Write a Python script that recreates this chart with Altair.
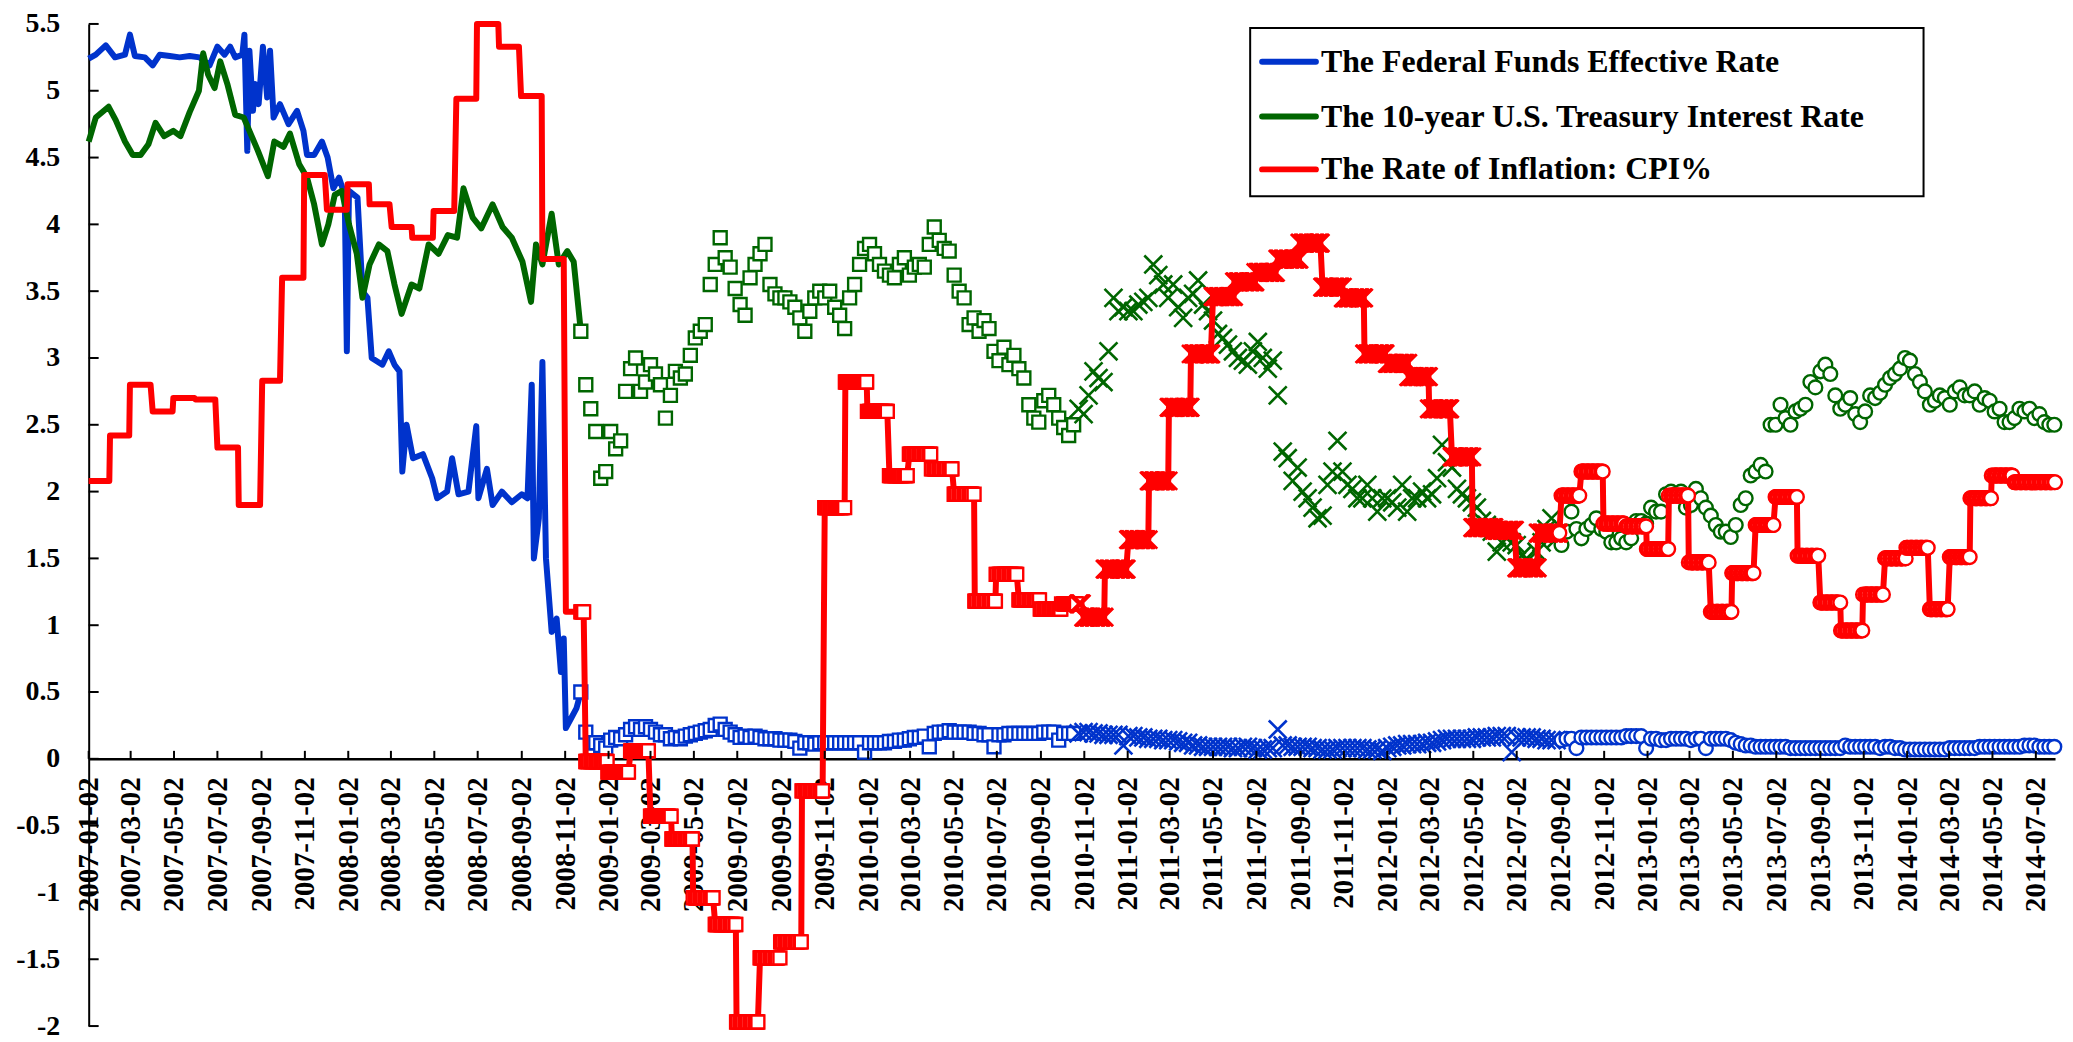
import altair as alt
import pandas as pd

# ---------------- data ----------------
# Line-only stretch (Jan 2007 - Nov 2008): irregular readings incl. spikes
fed_dates_early = [
    "2007-01-02","2007-01-12","2007-01-26","2007-02-08","2007-02-22","2007-03-01","2007-03-08","2007-03-22",
    "2007-04-02","2007-04-12","2007-04-26","2007-05-10","2007-05-24","2007-06-07","2007-06-21","2007-07-02",
    "2007-07-12","2007-07-20","2007-07-27","2007-08-06","2007-08-09","2007-08-13","2007-08-16","2007-08-21",
    "2007-08-24","2007-08-29","2007-09-04","2007-09-10","2007-09-14","2007-09-19","2007-09-28","2007-10-10",
    "2007-10-22","2007-10-31","2007-11-05","2007-11-15","2007-11-26","2007-12-04","2007-12-12","2007-12-20",
    "2007-12-28","2007-12-31","2008-01-03","2008-01-15","2008-01-22","2008-01-29","2008-02-04","2008-02-19",
    "2008-02-28","2008-03-07","2008-03-14","2008-03-18","2008-03-24","2008-04-02","2008-04-16","2008-04-29",
    "2008-05-06","2008-05-20","2008-05-27","2008-06-05","2008-06-19","2008-06-30","2008-07-03","2008-07-15",
    "2008-07-23","2008-08-05","2008-08-19","2008-09-02","2008-09-10","2008-09-16","2008-09-19","2008-09-26",
    "2008-10-01","2008-10-06","2008-10-14","2008-10-21","2008-10-27","2008-10-31","2008-11-03","2008-11-10",
    "2008-11-18",
]
fed_rates_early = [
    5.24,5.27,5.34,5.25,5.27,5.42,5.26,5.25,
    5.19,5.27,5.26,5.25,5.26,5.25,5.19,5.33,
    5.27,5.33,5.25,5.27,5.42,4.55,5.30,4.85,
    5.05,4.90,5.33,4.95,5.30,4.80,4.90,4.75,
    4.85,4.70,4.52,4.52,4.62,4.50,4.27,4.35,
    4.22,3.05,4.25,4.20,3.50,3.45,3.00,2.95,
    3.05,2.95,2.90,2.15,2.50,2.25,2.28,2.10,
    1.95,2.00,2.25,1.98,2.00,2.49,1.95,2.17,
    1.90,2.00,1.92,1.98,1.95,2.80,1.50,1.80,
    2.97,1.50,0.95,1.05,0.65,0.90,0.23,0.30,
    0.38,
]
t10_dates_early = [
    "2007-01-02","2007-01-12","2007-01-30","2007-02-09","2007-02-22","2007-03-05","2007-03-16","2007-03-27",
    "2007-04-06","2007-04-18","2007-05-01","2007-05-11","2007-05-24","2007-06-06","2007-06-12","2007-06-19",
    "2007-06-28","2007-07-06","2007-07-16","2007-07-27","2007-08-08","2007-08-16","2007-08-28","2007-09-11",
    "2007-09-20","2007-10-03","2007-10-12","2007-10-25","2007-11-05","2007-11-15","2007-11-26","2007-12-05",
    "2007-12-14","2007-12-24","2008-01-03","2008-01-14","2008-01-22","2008-02-01","2008-02-14","2008-02-26",
    "2008-03-07","2008-03-17","2008-03-31","2008-04-11","2008-04-24","2008-05-08","2008-05-21","2008-06-03",
    "2008-06-12","2008-06-25","2008-07-07","2008-07-23","2008-08-06","2008-08-19","2008-09-03","2008-09-15",
    "2008-09-22","2008-10-01","2008-10-14","2008-10-24","2008-11-05","2008-11-14",
]
t10_rates_early = [
    4.62,4.80,4.88,4.78,4.62,4.52,4.52,4.60,
    4.76,4.66,4.70,4.66,4.84,5.00,5.28,5.12,
    5.02,5.22,5.05,4.82,4.80,4.70,4.55,4.36,
    4.62,4.58,4.68,4.45,4.35,4.15,3.85,4.00,
    4.22,4.25,4.00,3.78,3.45,3.70,3.85,3.80,
    3.55,3.33,3.55,3.52,3.85,3.78,3.92,3.90,
    4.27,4.05,3.97,4.15,3.98,3.90,3.72,3.42,
    3.85,3.70,4.08,3.70,3.80,3.72,
]

# Marker stretch (from 24 Nov 2008): one reading per Monday, grouped by month
fed_weekly = {
    "2008-11": [0.50], "2008-12": [0.20, 0.12, 0.12, 0.10, 0.08],
    "2009-01": [0.14, 0.16, 0.15, 0.18], "2009-02": [0.22, 0.24, 0.22, 0.24],
    "2009-03": [0.22, 0.20, 0.18, 0.18, 0.15], "2009-04": [0.16, 0.15, 0.17, 0.18],
    "2009-05": [0.19, 0.20, 0.21, 0.22], "2009-06": [0.25, 0.26, 0.22, 0.20, 0.18],
    "2009-07": [0.16, 0.17, 0.16, 0.17], "2009-08": [0.16, 0.15, 0.15, 0.15, 0.14],
    "2009-09": [0.14, 0.14, 0.13, 0.08], "2009-10": [0.12, 0.12, 0.11, 0.12],
    "2009-11": [0.12, 0.12, 0.12, 0.12, 0.12], "2009-12": [0.12, 0.12, 0.12, 0.05],
    "2010-01": [0.12, 0.12, 0.12, 0.12], "2010-02": [0.13, 0.13, 0.14, 0.14],
    "2010-03": [0.15, 0.16, 0.16, 0.17, 0.09], "2010-04": [0.19, 0.20, 0.20, 0.21],
    "2010-05": [0.20, 0.20, 0.20, 0.20, 0.19], "2010-06": [0.19, 0.18, 0.18, 0.09],
    "2010-07": [0.18, 0.18, 0.19, 0.19], "2010-08": [0.19, 0.19, 0.19, 0.19, 0.19],
    "2010-09": [0.20, 0.20, 0.20, 0.14], "2010-10": [0.19, 0.19, 0.19, 0.19],
    "2010-11": [0.20, 0.20, 0.19, 0.19, 0.18], "2010-12": [0.18, 0.18, 0.18, 0.10],
    "2011-01": [0.17, 0.17, 0.16, 0.16, 0.15], "2011-02": [0.15, 0.15, 0.14, 0.14],
    "2011-03": [0.14, 0.13, 0.12, 0.12], "2011-04": [0.10, 0.10, 0.09, 0.09],
    "2011-05": [0.09, 0.09, 0.09, 0.09, 0.08], "2011-06": [0.08, 0.09, 0.09, 0.08],
    "2011-07": [0.07, 0.07, 0.08, 0.08], "2011-08": [0.22, 0.10, 0.10, 0.09, 0.09],
    "2011-09": [0.09, 0.09, 0.08, 0.08], "2011-10": [0.07, 0.07, 0.07, 0.08, 0.08],
    "2011-11": [0.08, 0.08, 0.08, 0.08], "2011-12": [0.07, 0.07, 0.07, 0.06],
    "2012-01": [0.08, 0.09, 0.10, 0.10, 0.11], "2012-02": [0.11, 0.11, 0.11, 0.12],
    "2012-03": [0.12, 0.13, 0.14, 0.15], "2012-04": [0.15, 0.15, 0.15, 0.15, 0.15],
    "2012-05": [0.16, 0.16, 0.16, 0.16], "2012-06": [0.17, 0.17, 0.17, 0.05],
    "2012-07": [0.16, 0.16, 0.16, 0.16, 0.15], "2012-08": [0.15, 0.14, 0.14, 0.14],
    "2012-09": [0.14, 0.15, 0.15, 0.08], "2012-10": [0.16, 0.16, 0.16, 0.16, 0.16],
    "2012-11": [0.16, 0.16, 0.16, 0.16], "2012-12": [0.17, 0.17, 0.17, 0.17, 0.08],
    "2013-01": [0.15, 0.15, 0.14, 0.14], "2013-02": [0.15, 0.15, 0.15, 0.15],
    "2013-03": [0.14, 0.15, 0.15, 0.08], "2013-04": [0.15, 0.15, 0.15, 0.15, 0.14],
    "2013-05": [0.12, 0.11, 0.10, 0.10], "2013-06": [0.09, 0.09, 0.09, 0.09],
    "2013-07": [0.09, 0.09, 0.09, 0.08, 0.08], "2013-08": [0.08, 0.08, 0.08, 0.08],
    "2013-09": [0.08, 0.08, 0.08, 0.08, 0.08], "2013-10": [0.10, 0.09, 0.09, 0.09],
    "2013-11": [0.09, 0.09, 0.09, 0.08], "2013-12": [0.09, 0.09, 0.08, 0.08, 0.07],
    "2014-01": [0.07, 0.07, 0.07, 0.07], "2014-02": [0.07, 0.07, 0.07, 0.07],
    "2014-03": [0.08, 0.08, 0.08, 0.08, 0.08], "2014-04": [0.08, 0.09, 0.09, 0.09],
    "2014-05": [0.09, 0.09, 0.09, 0.09], "2014-06": [0.09, 0.09, 0.10, 0.10, 0.10],
    "2014-07": [0.09, 0.09, 0.09, 0.09],
}
t10_weekly = {
    "2008-11": [3.20], "2008-12": [2.80, 2.62, 2.45, 2.10, 2.15],
    "2009-01": [2.45, 2.32, 2.38, 2.75], "2009-02": [2.92, 3.00, 2.75, 2.82],
    "2009-03": [2.95, 2.88, 2.80, 2.55, 2.72], "2009-04": [2.90, 2.85, 2.88, 3.02],
    "2009-05": [3.15, 3.20, 3.25, 3.55], "2009-06": [3.70, 3.90, 3.75, 3.68, 3.52],
    "2009-07": [3.40, 3.32, 3.60, 3.70], "2009-08": [3.78, 3.85, 3.55, 3.48, 3.45],
    "2009-09": [3.45, 3.42, 3.38, 3.30], "2009-10": [3.20, 3.35, 3.45, 3.50],
    "2009-11": [3.45, 3.50, 3.38, 3.32, 3.22], "2009-12": [3.45, 3.55, 3.70, 3.82],
    "2010-01": [3.85, 3.78, 3.70, 3.65], "2010-02": [3.62, 3.60, 3.70, 3.75],
    "2010-03": [3.62, 3.68, 3.70, 3.68, 3.85], "2010-04": [3.98, 3.88, 3.82, 3.80],
    "2010-05": [3.62, 3.50, 3.45, 3.25, 3.30], "2010-06": [3.20, 3.28, 3.22, 3.05],
    "2010-07": [2.98, 3.08, 2.95, 3.02], "2010-08": [2.92, 2.85, 2.65, 2.55, 2.52],
    "2010-09": [2.68, 2.72, 2.65, 2.55], "2010-10": [2.48, 2.42, 2.50, 2.62],
    "2010-11": [2.58, 2.72, 2.90, 2.85, 2.82], "2010-12": [3.05, 3.45, 3.35, 3.38],
    "2011-01": [3.35, 3.35, 3.40, 3.42, 3.45], "2011-02": [3.70, 3.62, 3.55, 3.45],
    "2011-03": [3.55, 3.38, 3.30, 3.45], "2011-04": [3.48, 3.58, 3.40, 3.35],
    "2011-05": [3.28, 3.18, 3.15, 3.10, 3.05], "2011-06": [3.00, 2.98, 2.95, 3.05],
    "2011-07": [3.12, 3.00, 2.92, 2.98], "2011-08": [2.72, 2.30, 2.25, 2.08, 2.18],
    "2011-09": [2.00, 1.95, 1.88, 1.80], "2011-10": [1.82, 2.05, 2.15, 2.38, 2.15],
    "2011-11": [2.05, 2.02, 1.95, 1.95], "2011-12": [2.05, 1.95, 1.85, 1.95],
    "2012-01": [1.95, 1.92, 1.88, 2.05, 1.85], "2012-02": [1.95, 1.95, 2.00, 1.95],
    "2012-03": [1.98, 2.10, 2.35, 2.22], "2012-04": [2.18, 2.02, 1.98, 1.95, 1.92],
    "2012-05": [1.88, 1.78, 1.75, 1.70], "2012-06": [1.55, 1.62, 1.65, 1.62],
    "2012-07": [1.60, 1.52, 1.50, 1.45, 1.55], "2012-08": [1.62, 1.72, 1.80, 1.65],
    "2012-09": [1.60, 1.70, 1.85, 1.72], "2012-10": [1.65, 1.72, 1.75, 1.80, 1.72],
    "2012-11": [1.70, 1.62, 1.62, 1.65], "2012-12": [1.62, 1.65, 1.78, 1.78, 1.76],
    "2013-01": [1.88, 1.85, 1.85, 1.98], "2013-02": [2.00, 1.98, 2.00, 1.88],
    "2013-03": [1.90, 2.02, 1.95, 1.88], "2013-04": [1.82, 1.75, 1.70, 1.70, 1.66],
    "2013-05": [1.75, 1.90, 1.95, 2.12], "2013-06": [2.15, 2.20, 2.15, 2.50],
    "2013-07": [2.50, 2.65, 2.55, 2.50, 2.60], "2013-08": [2.62, 2.65, 2.82, 2.78],
    "2013-09": [2.90, 2.95, 2.88, 2.72, 2.62], "2013-10": [2.65, 2.70, 2.58, 2.52],
    "2013-11": [2.60, 2.72, 2.70, 2.74], "2013-12": [2.80, 2.85, 2.88, 2.92, 3.00],
    "2014-01": [2.98, 2.88, 2.82, 2.75], "2014-02": [2.65, 2.68, 2.72, 2.70],
    "2014-03": [2.65, 2.75, 2.78, 2.72, 2.72], "2014-04": [2.75, 2.65, 2.70, 2.68],
    "2014-05": [2.60, 2.62, 2.52, 2.52], "2014-06": [2.55, 2.62, 2.60, 2.62, 2.55],
    "2014-07": [2.58, 2.52, 2.50, 2.50],
}
weekly_start = "2008-11-24"

# CPI: one value per month starting January 2007 (step series)
cpi_first_month = "2007-01"
cpi_rates = [
    2.08, 2.42, 2.80, 2.60, 2.70, 2.69, 2.33, 1.90, 2.83, 3.60, 4.37, 4.11,
    4.30, 4.15, 3.98, 3.90, 4.10, 4.94, 5.50, 5.33, 4.96, 3.74, 1.10, -0.02,
    -0.10, 0.06, -0.43, -0.60, -1.04, -1.24, -1.97, -1.49, -1.37, -0.24, 1.88, 2.82,
    2.60, 2.12, 2.28, 2.17, 1.98, 1.18, 1.38, 1.19, 1.12, 1.16, 1.06, 1.42,
    1.64, 2.08, 2.63, 3.03, 3.46, 3.57, 3.64, 3.74, 3.86, 3.53, 3.45, 3.03,
    2.96, 2.86, 2.62, 2.26, 1.73, 1.71, 1.43, 1.69, 1.97, 2.15, 1.76, 1.74,
    1.57, 1.97, 1.47, 1.10, 1.39, 1.75, 1.96, 1.52, 1.17, 0.96, 1.23, 1.50,
    1.58, 1.12, 1.51, 1.95, 2.12, 2.07, 2.07,
]

series_names = ["The Federal Funds Effective Rate",
                "The 10-year U.S. Treasury Interest Rate",
                "The Rate of Inflation: CPI%"]
series_colors = ["#0033CC", "#006600", "#FF0000"]

# marker style changes: lines only -> squares -> crosses -> circles
period_starts = ["2008-11-24", "2010-10-25", "2012-08-31"]

x_start = (2007, 1, 2)
x_end = (2014, 7, 29)
x_tick_labels = [f"{y}-{m:02d}-02" for y in range(2007, 2015) for m in (1, 3, 5, 7, 9, 11)
                 if f"{y}-{m:02d}" <= "2014-07"]
y_tick_values = [-2, -1.5, -1, -0.5, 0, 0.5, 1, 1.5, 2, 2.5, 3, 3.5, 4, 4.5, 5, 5.5]

# ---------------- layout ----------------
W, H = 1974, 1006
Y_MIN, Y_MAX = -2, 5.5
Y0 = H * Y_MAX / (Y_MAX - Y_MIN)         # pixel row of the value 0
FONT = "Liberation Serif"
LINE_W = 6


def period_of(d):
    if d < period_starts[0]:
        return 0
    if d < period_starts[1]:
        return 1
    if d < period_starts[2]:
        return 2
    return 3


def weekly_frame(table):
    dates, vals = [], []
    for month, values in table.items():
        start = pd.Timestamp(month + "-01")
        mondays = pd.date_range(start, start + pd.offsets.MonthEnd(0), freq="W-MON")
        mondays = [d for d in mondays if d >= pd.Timestamp(weekly_start)]
        for d, v in zip(mondays, values):
            dates.append(d.strftime("%Y-%m-%d"))
            vals.append(v)
    return dates, vals


def series_frame(early_dates, early_vals, weekly):
    wd, wv = weekly_frame(weekly)
    df = pd.DataFrame({"date": list(early_dates) + wd, "v": list(early_vals) + wv})
    df["p"] = df["date"].map(period_of)
    return df.reset_index(drop=True)


fed = series_frame(fed_dates_early, fed_rates_early, fed_weekly)
t10 = series_frame(t10_dates_early, t10_rates_early, t10_weekly)

months = pd.period_range(cpi_first_month, periods=len(cpi_rates), freq="M").strftime("%Y-%m")
cpi_by_month = dict(zip(months, cpi_rates))
bdays = pd.bdate_range("%d-%02d-%02d" % x_start, "%d-%02d-%02d" % x_end).strftime("%Y-%m-%d")
cpi = pd.DataFrame({"date": list(bdays)})
cpi["v"] = [cpi_by_month[d[:7]] for d in cpi["date"]]
cpi["p"] = cpi["date"].map(period_of)


def dt(s):
    y, m, d = (int(t) for t in s.split("-"))
    return alt.DateTime(year=y, month=m, date=d, utc=True)


X_SCALE = alt.Scale(type="utc", domain=[alt.DateTime(year=x_start[0], month=x_start[1], date=x_start[2], utc=True),
                                        alt.DateTime(year=x_end[0], month=x_end[1], date=x_end[2], utc=True)])
Y_SCALE = alt.Scale(domain=[Y_MIN, Y_MAX], nice=False, zero=False)

X_AXIS = alt.Axis(values=[dt(s) for s in x_tick_labels], format="%Y-%m-%d", labelAngle=270,
                  labelAlign="right", labelBaseline="middle", labelFont=FONT, labelFontSize=29,
                  labelFontWeight="bold", labelColor="black", labelPadding=18, labelOverlap=False,
                  labelFlush=False, ticks=False, tickSize=0, domainColor="black", domainWidth=2.5,
                  grid=False, offset=-(H - Y0), title=None)
Y_AXIS = alt.Axis(values=y_tick_values, labelExpr="'' + datum.value", labelFont=FONT, labelFontSize=28,
                  labelFontWeight="bold", labelColor="black", labelPadding=29, labelOverlap=False,
                  ticks=False, tickSize=0, domainColor="black", domainWidth=2, grid=False, title=None)


def enc():
    return dict(x=alt.X("date:T", scale=X_SCALE, axis=X_AXIS, title=None),
                y=alt.Y("v:Q", scale=Y_SCALE, axis=Y_AXIS, title=None))


X_PATH = "M-1,-1L1,1M-1,1L1,-1"
marker_styles = {1: ("square", 169, 2.4, True), 2: (X_PATH, 324, 2.6, False), 3: ("circle", 190, 2.4, True)}


def markers(df, color):
    out = []
    for p, (shape, size, sw, white) in marker_styles.items():
        sub = df[df["p"] == p]
        kw = dict(shape=shape, size=size, stroke=color, strokeWidth=sw, opacity=1, color=color)
        if white:
            kw.update(fill="white", fillOpacity=1)
        out.append(alt.Chart(sub).mark_point(**kw).encode(**enc()))
    return out


def early_line(df, color):
    first_marker = df[df["p"] > 0].index.min()
    sub = df[(df["p"] == 0) | (df.index == first_marker)]
    return alt.Chart(sub).mark_line(color=color, strokeWidth=LINE_W, strokeJoin="round").encode(**enc())


layers = []
layers.append(early_line(fed, series_colors[0]))
layers += markers(fed, series_colors[0])
layers.append(early_line(t10, series_colors[1]))
layers += markers(t10, series_colors[1])
layers.append(alt.Chart(cpi).mark_line(color=series_colors[2], strokeWidth=LINE_W,
                                       strokeJoin="round").encode(**enc()))
layers += markers(cpi[cpi["p"] > 0], series_colors[2])

# inward tick marks (Excel style)
ytick_df = pd.DataFrame({"v": y_tick_values})
layers.append(alt.Chart(ytick_df).mark_rule(color="black", strokeWidth=2).encode(
    y=alt.Y("v:Q", scale=Y_SCALE, axis=Y_AXIS, title=None), x=alt.value(0), x2=alt.value(10)))
xtick_df = pd.DataFrame({"date": x_tick_labels})
layers.append(alt.Chart(xtick_df).mark_rule(color="black", strokeWidth=2).encode(
    x=alt.X("date:T", scale=X_SCALE, axis=X_AXIS, title=None), y=alt.value(Y0), y2=alt.value(Y0 - 8)))

# legend box
LX0, LX1, LY0, LY1 = 1166, 1842, 4, 173
row_y = [38, 93, 146]
box_df = pd.DataFrame({"k": [0]})
layers.append(alt.Chart(box_df).mark_rect(fill="white", stroke="black", strokeWidth=2).encode(
    x=alt.value(LX0), x2=alt.value(LX1), y=alt.value(LY0), y2=alt.value(LY1)))
for name, color, ry in zip(series_names, series_colors, row_y):
    ldf = pd.DataFrame({"name": [name]})
    layers.append(alt.Chart(ldf).mark_rule(color=color, strokeWidth=6, strokeCap="round").encode(
        x=alt.value(LX0 + 12), x2=alt.value(LX0 + 66), y=alt.value(ry)))
    layers.append(alt.Chart(ldf).mark_text(align="left", baseline="middle", font=FONT, fontSize=32,
                                           fontWeight="bold", color="black").encode(
        x=alt.value(LX0 + 71), y=alt.value(ry), text="name:N"))

chart = alt.layer(*layers).properties(
    width=W, height=H,
    padding={"left": 81, "top": 14, "right": 10, "bottom": 14},
    autosize=alt.AutoSizeParams(type="none"),
    background="white",
).configure_view(stroke=None)

chart.save("out.html", embed_options={"renderer": "svg", "actions": False})
